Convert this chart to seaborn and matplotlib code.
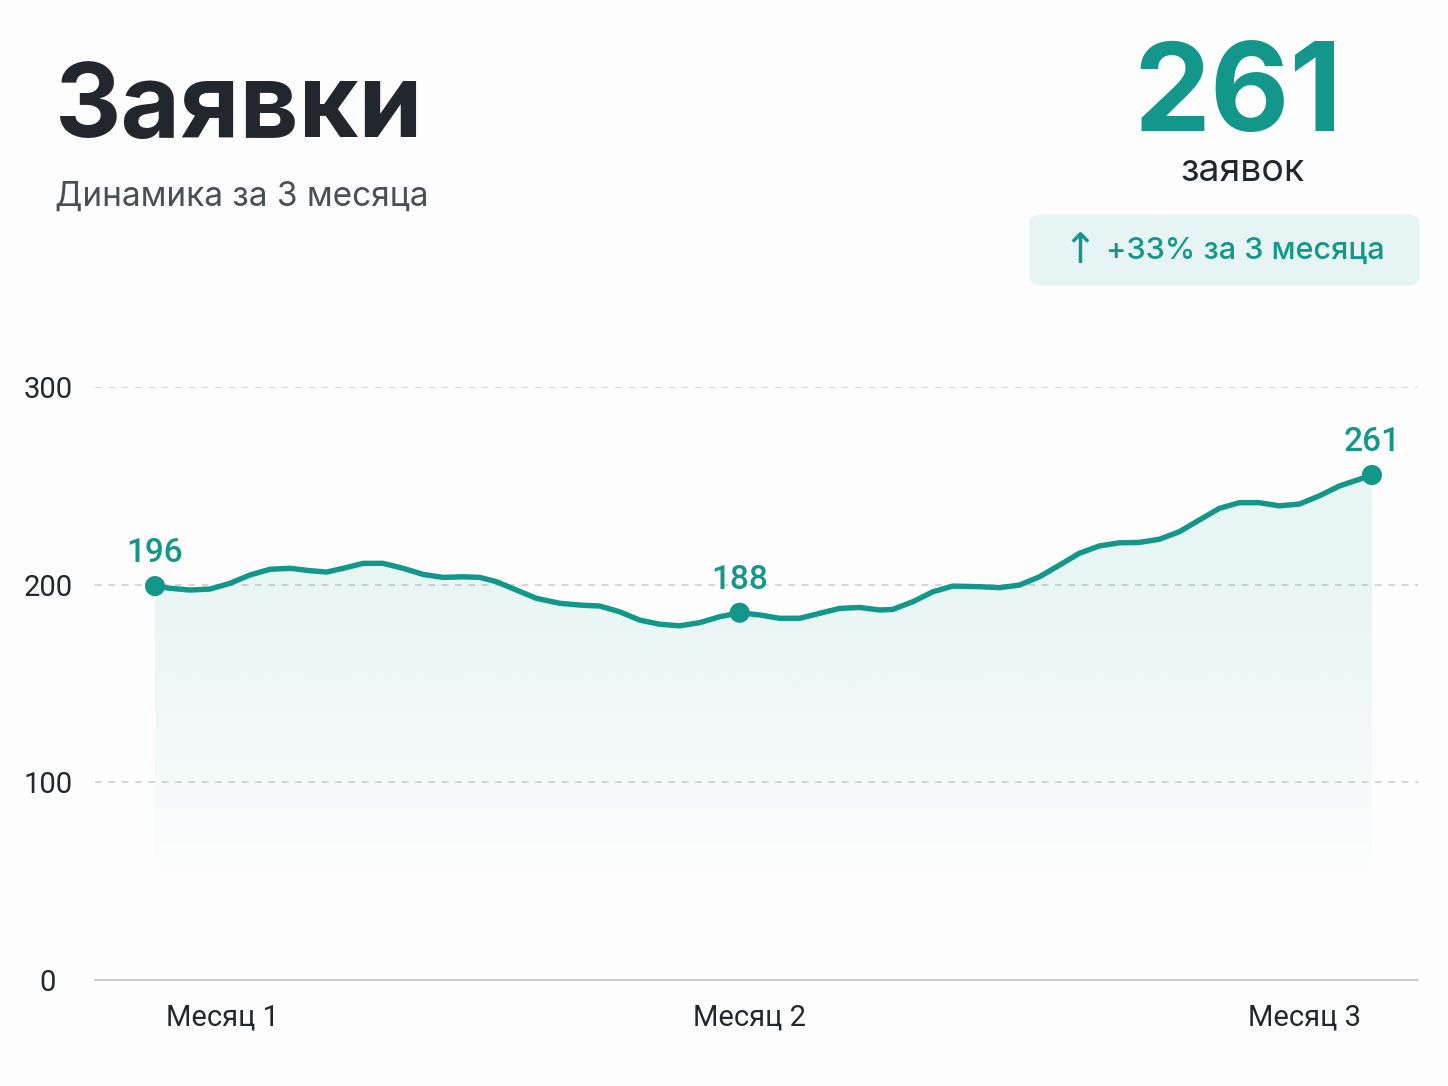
import numpy as np
import pandas as pd
import matplotlib
matplotlib.use("Agg")
import matplotlib.pyplot as plt
import seaborn as sns
from matplotlib.patches import FancyBboxPatch

# ---- data ----
days = [0.0, 1.11, 2.59, 4.07, 5.54, 7.02, 8.50, 9.98, 11.46, 12.69, 13.92, 15.40,
        16.87, 18.35, 19.83, 21.31, 22.79, 24.02, 25.26, 26.73, 28.21, 29.93, 31.41,
        32.89, 34.37, 35.85, 37.32, 38.80, 40.28, 41.76, 43.24, 44.72, 46.19, 47.67,
        49.15, 50.63, 52.11, 53.58, 54.57, 56.05, 57.52, 59.0, 60.97, 62.45, 63.93,
        65.41, 66.89, 68.36, 69.84, 71.32, 72.80, 74.28, 75.76, 77.23, 78.71, 80.19,
        81.67, 83.15, 84.63, 86.10, 87.58, 89.06, 90.0]
values = [199.3, 198.2, 197.3, 197.8, 200.7, 204.9, 207.8, 208.3, 207.1, 206.4, 208.3,
          210.8, 210.8, 208.3, 205.2, 203.7, 204.0, 203.7, 201.5, 197.3, 193.1, 190.6,
          189.7, 189.2, 186.3, 182.1, 180.0, 179.2, 180.8, 183.8, 185.8, 184.7, 183.0,
          183.0, 185.5, 188.0, 188.5, 187.2, 187.5, 191.4, 196.4, 199.3, 199.0, 198.5,
          199.8, 204.0, 209.9, 215.9, 219.6, 221.2, 221.4, 223.0, 226.8, 232.7, 238.6,
          241.5, 241.5, 239.9, 240.8, 244.9, 249.9, 253.3, 255.5]
marker_days = [0.0, 43.24, 90.0]
marker_values = [199.3, 185.8, 255.5]
marker_labels = ["196", "188", "261"]
month_ticks = [5, 44, 85]
month_labels = ["Месяц 1", "Месяц 2", "Месяц 3"]
y_ticks = [0, 100, 200, 300]
title = "Заявки"
subtitle = "Динамика за 3 месяца"
total_value = "261"
total_unit = "заявок"
badge_text = "+33% за 3 месяца"

TEAL = "#13978a"
DARK = "#22262d"
GRAY = "#4a4f57"

sns.set_theme(style="white")
plt.rcParams["font.family"] = ["Inter", "DejaVu Sans"]

fig = plt.figure(figsize=(14.48, 10.86), dpi=100, facecolor="#fdfdfd")
ax = fig.add_axes([0.0656, 0.0976, 0.9136, 0.546])
ax.set_facecolor("none")

df = pd.DataFrame({"day": days, "value": values})

# gradient fill under the curve
n = 256
vmax = max(values)
levels = np.linspace(0, vmax, n)
alpha = np.clip((levels - 45) / (205 - 45), 0, 1) * 0.105
rgba = np.zeros((n, 1, 4))
rgba[..., 0] = 40 / 255
rgba[..., 1] = 178 / 255
rgba[..., 2] = 165 / 255
rgba[:, 0, 3] = alpha
im = ax.imshow(rgba, extent=[days[0], days[-1], 0, vmax], origin="lower",
               aspect="auto", zorder=1, interpolation="bilinear")
poly = ax.fill_between(df["day"], df["value"], 0, color="none", lw=0)
im.set_clip_path(poly.get_paths()[0], transform=ax.transData)

sns.lineplot(data=df, x="day", y="value", color=TEAL, lw=3.9, ax=ax, zorder=3,
             solid_capstyle="round", solid_joinstyle="round")
mk = pd.DataFrame({"day": marker_days, "value": marker_values})
sns.scatterplot(data=mk, x="day", y="value", s=210, color=TEAL, edgecolor="none",
                ax=ax, zorder=4, clip_on=False)
for d, v, lab in zip(marker_days, marker_values, marker_labels):
    ax.annotate(lab, (d, v), xytext=(0, 17), textcoords="offset points",
                ha="center", va="baseline", color=TEAL, fontsize=24,
                family=["Roboto", "DejaVu Sans"], fontweight="medium")

ax.set_xlim(-4.44, 93.4)
ax.set_ylim(0, 300)
ax.set_yticks(y_ticks)
ax.set_yticklabels([str(t) for t in y_ticks], family=["Roboto", "DejaVu Sans"],
                   fontsize=21, color=DARK, ha="center")
ax.tick_params(axis="y", length=0, pad=34)
ax.set_xticks(month_ticks)
ax.set_xticklabels(month_labels, family=["Roboto", "DejaVu Sans"], fontsize=21,
                   color=DARK)
ax.tick_params(axis="x", length=0, pad=17)
ax.set_xlabel("")
ax.set_ylabel("")

for t in y_ticks[1:]:
    ax.axhline(t, color="#cfcfcf", lw=1.2, ls=(0, (4, 4)), zorder=0)
for s in ["left", "right", "top"]:
    ax.spines[s].set_visible(False)
ax.spines["bottom"].set_color("#c8c8c8")
ax.spines["bottom"].set_linewidth(1.3)
ax.grid(False)

# header texts
fig.text(0.038, 0.874, title, fontsize=74, fontweight="bold", color=DARK,
         ha="left", va="baseline")
fig.text(0.038, 0.811, subtitle, fontsize=24, color=GRAY, ha="left", va="baseline")
fig.text(0.855, 0.8795, total_value, fontsize=88, fontweight="bold", color=TEAL,
         ha="center", va="baseline")
fig.text(0.858, 0.8335, total_unit, fontsize=27, color=DARK, ha="center",
         va="baseline")

badge = FancyBboxPatch((0.716, 0.742), 0.2593, 0.0554,
                       boxstyle="round,pad=0.005,rounding_size=0.008",
                       transform=fig.transFigure, facecolor="#e6f5f3",
                       edgecolor="none", zorder=0)
fig.patches.append(badge)
fig.text(0.746, 0.7685, "↑", fontsize=30, color=TEAL, ha="center", va="center",
         family=["DejaVu Sans"])
fig.text(0.860, 0.769, badge_text, fontsize=22, color=TEAL, ha="center",
         va="center", fontweight="medium")

fig.savefig("out.png", dpi=100, facecolor=fig.get_facecolor())
